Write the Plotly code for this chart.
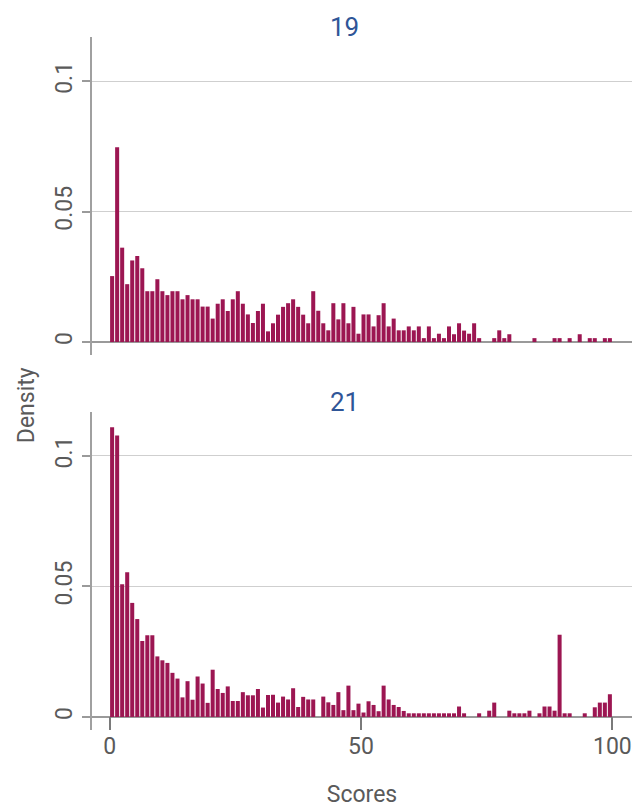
import plotly.graph_objects as go
from plotly.subplots import make_subplots

# Score bins (bin [k-1, k) centred at k-0.5), k = 1..100
scores = [k - 0.5 for k in range(1, 101)]

# Density values (in units of 0.001)
density_19 = [25.3, 74.7, 36.2, 22.2, 31.3, 33, 28.3, 19.5, 19.5, 24.1,
              19.5, 18, 19.5, 19.5, 16.4, 18, 16.4, 16.4, 13.6, 13.6,
              9, 14.7, 16.4, 11.9, 16.4, 19.5, 14.7, 10.6, 7.3, 11.9,
              14.7, 4.1, 7.2, 10.5, 13.5, 14.9, 16.4, 13.5, 10.5, 7.2,
              19.5, 12, 7.2, 4.5, 14.9, 8.7, 14.9, 7.2, 13.5, 3.2,
              10.6, 10.6, 6, 10.3, 14.9, 6, 9, 4.5, 4.5, 6,
              4.5, 6, 1.5, 6, 1.5, 3.2, 1.5, 6, 3, 7.2,
              4.4, 3.2, 7.2, 1.5, 0, 0, 1.5, 4.5, 1.5, 3,
              0, 0, 0, 0, 1.5, 0, 0, 0, 1.5, 1.5,
              0, 1.5, 0, 3, 0, 1.5, 1.5, 0, 1.5, 1.5]

density_21 = [111.0, 107.8, 50.8, 55.4, 43.7, 37.5, 29.1, 31.3, 31.3, 23.2,
              21.7, 20.7, 16.9, 14.7, 7.5, 13.7, 6.6, 15.5, 12.8, 5.4,
              18.1, 10.7, 9.2, 11.7, 6.1, 6.1, 9.5, 8.3, 8.3, 10.7,
              3.6, 8.4, 8.5, 5.5, 7.8, 6.7, 11, 3.8, 7.7, 6.7,
              6.7, 0, 7.8, 5.6, 4.6, 9.5, 2.6, 12, 2.6, 5.1,
              1.7, 6, 4.6, 2.2, 12, 6.7, 4.6, 3.8, 2.3, 1.4,
              1.4, 1.4, 1.4, 1.4, 1.4, 1.4, 1.4, 1.4, 1.4, 4,
              1.4, 0, 0, 1.4, 0, 2.4, 5.5, 0, 0, 2.4,
              1.4, 1.4, 1.4, 2.4, 0, 1.4, 4, 4, 2.4, 31.5,
              1.4, 1.4, 0, 0, 1.4, 0, 3.7, 5.5, 5.5, 8.7]

panel_titles = ["19", "21"]
y_tickvals = [0, 0.05, 0.1]
y_ticktext = ["0", "0.05", "0.1"]
x_tickvals = [0, 50, 100]

BAR = "#9c1652"
GREY = "#5a5a5a"
FONT = "Roboto"

fig = make_subplots(rows=2, cols=1, shared_xaxes=False, vertical_spacing=0.0)

for i, vals in enumerate([density_19, density_21], start=1):
    fig.add_trace(go.Bar(x=scores, y=[v / 1000 for v in vals], width=0.8,
                         marker=dict(color=BAR, line=dict(width=0)),
                         showlegend=False, hoverinfo="x+y"), row=i, col=1)

top_dom = [0.541, 1.0]
bot_dom = [0.0, 0.4595]

yaxis_common = dict(range=[-0.005, 0.117], tickvals=y_tickvals, ticktext=y_ticktext,
                    tickangle=-90, showgrid=True, gridcolor="#cfcfcf", gridwidth=1,
                    zeroline=True, zerolinecolor="#9a9a9a", zerolinewidth=2,
                    showline=True, linecolor="#a0a0a0", linewidth=1.5,
                    ticks="outside", ticklen=8, tickcolor="#9a9a9a", tickwidth=1.5,
                    ticklabelstandoff=1, automargin=False,
                    tickfont=dict(family=FONT, size=23, color=GREY))

# the page adds an 8px body margin; margins below compensate for it
fig.update_layout(
    width=644, height=808,
    margin=dict(l=84, r=20, t=29, b=86, autoexpand=False),
    paper_bgcolor="white", plot_bgcolor="white",
    bargap=0.2,
    font=dict(family=FONT, color=GREY),
    xaxis=dict(domain=[0, 1], anchor="y", range=[-3.5, 103.9], showticklabels=False,
               showgrid=False, zeroline=False, showline=False, ticks="", automargin=False),
    xaxis2=dict(domain=[0, 1], anchor="y2", matches="x", range=[-3.5, 103.9],
                tickvals=x_tickvals, showgrid=False, zeroline=False, showline=False,
                ticks="inside", ticklen=13, tickcolor="#7a7a7a", tickwidth=1.5,
                automargin=False,
                tickfont=dict(family=FONT, size=23, color=GREY),
                title=dict(text="Scores", standoff=26,
                           font=dict(family=FONT, size=23, color=GREY))),
    yaxis=dict(domain=top_dom, anchor="x", **yaxis_common),
    yaxis2=dict(domain=bot_dom, anchor="x2", **yaxis_common),
)

for title, dom in zip(panel_titles, [top_dom, bot_dom]):
    fig.add_annotation(text=title, xref="paper", yref="paper", x=0.4685, y=dom[1],
                       yshift=10, xanchor="center", yanchor="middle", showarrow=False,
                       font=dict(family=FONT, size=26, color="#2f5597"))

fig.add_annotation(text="Density", xref="paper", yref="paper", x=-0.12, y=0.469,
                   textangle=-90, xanchor="center", yanchor="middle", showarrow=False,
                   font=dict(family=FONT, size=23, color=GREY))

fig.write_html("out.html")
